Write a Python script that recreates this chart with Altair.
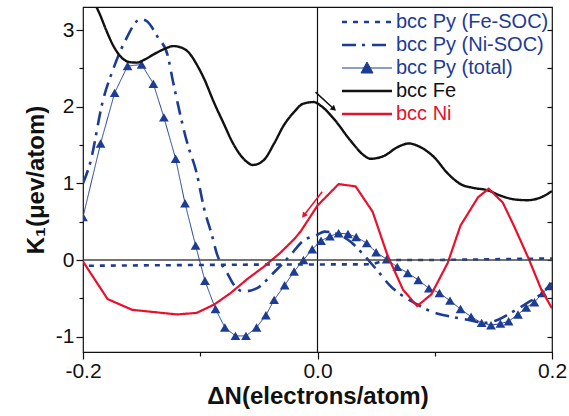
import altair as alt
import pandas as pd

# ---------------- data ----------------
names = ["bcc Py (Fe-SOC)", "bcc Py (Ni-SOC)", "bcc Py (total)", "bcc Fe", "bcc Ni"]
colors = ["#1d3c94", "#1d3c94", "#1d3c94", "#111111", "#e8102c"]

fe_x = [-0.2, -0.19, -0.1855, -0.18, -0.174, -0.167, -0.16, -0.154, -0.148, -0.14, -0.131,
        -0.123, -0.116, -0.11, -0.103, -0.096, -0.089, -0.08, -0.072, -0.063, -0.055, -0.046,
        -0.037, -0.029, -0.02, -0.012, -0.003, 0.003, 0.014, 0.028, 0.04, 0.045, 0.057, 0.068,
        0.078, 0.088, 0.0995, 0.111, 0.122, 0.133, 0.145, 0.156, 0.168, 0.179, 0.191, 0.2]
fe_y = [3.72, 3.35, 3.20, 2.99, 2.79, 2.64, 2.58, 2.575, 2.61, 2.68, 2.75,
        2.79, 2.77, 2.71, 2.55, 2.34, 2.08, 1.78, 1.52, 1.32, 1.24, 1.30,
        1.52, 1.75, 1.93, 2.04, 2.06, 2.01, 1.84, 1.56, 1.36, 1.32, 1.36, 1.47,
        1.52, 1.47, 1.34, 1.13, 0.99, 0.94, 0.91, 0.84, 0.79, 0.78, 0.82, 0.90]

ni_x = [-0.2, -0.179, -0.158, -0.12, -0.103, -0.088, -0.074, -0.06, -0.046, -0.032, -0.02,
        -0.0145, 0.0, 0.018, 0.0325, 0.047, 0.0596, 0.073, 0.085, 0.097, 0.111, 0.122, 0.137,
        0.146, 0.158, 0.168, 0.18, 0.191, 0.2]
ni_y = [-0.02, -0.51, -0.65, -0.71, -0.69, -0.58, -0.43, -0.25, -0.09, 0.09, 0.27,
        0.37, 0.71, 0.99, 0.96, 0.63, 0.065, -0.39, -0.6, -0.45, -0.04, 0.45, 0.82,
        0.93, 0.75, 0.43, 0.02, -0.39, -0.63]

fesoc_x = [-0.195, -0.15, -0.1, -0.05, 0.0, 0.03, 0.047, 0.058, 0.1, 0.15, 0.2]
fesoc_y = [-0.075, -0.07, -0.065, -0.06, -0.058, -0.057, -0.056, 0.0, 0.0, 0.01, 0.02]

nisoc_x = [-0.2, -0.194, -0.183, -0.174, -0.164, -0.151, -0.146, -0.136, -0.128, -0.123,
           -0.111, -0.103, -0.097, -0.09, -0.086, -0.077, -0.0715, -0.063, -0.052, -0.037,
           -0.023, -0.013, 0.0, 0.006, 0.02, 0.028, 0.038, 0.047, 0.054, 0.061, 0.071,
           0.085, 0.097, 0.114, 0.128, 0.142, 0.154, 0.165, 0.179, 0.19, 0.2]
nisoc_y = [1.0, 1.26, 2.08, 2.5, 2.86, 3.14, 3.12, 2.9, 2.68, 2.31,
           1.52, 1.13, 0.69, 0.32, 0.09, -0.17, -0.32, -0.41, -0.37, -0.16,
           0.065, 0.24, 0.33, 0.37, 0.32, 0.24, 0.09, -0.065, -0.19, -0.32, -0.45,
           -0.58, -0.67, -0.74, -0.78, -0.82, -0.78, -0.69, -0.56, -0.45, -0.30]

tot_x = [-0.2, -0.185, -0.173, -0.162, -0.15, -0.14, -0.131, -0.121, -0.113, -0.104, -0.096,
         -0.087, -0.079, -0.07, -0.061, -0.052, -0.044, -0.037, -0.028, -0.02, -0.012, -0.0045,
         0.003, 0.0106, 0.018, 0.026, 0.033, 0.042, 0.05, 0.059, 0.068, 0.077, 0.086, 0.095,
         0.104, 0.113, 0.122, 0.131, 0.14, 0.148, 0.156, 0.163, 0.171, 0.178, 0.185, 0.192, 0.198]
tot_y = [0.56, 1.52, 2.18, 2.53, 2.55, 2.3, 1.86, 1.32, 0.74, 0.19, -0.27,
         -0.64, -0.88, -0.99, -0.99, -0.88, -0.72, -0.52, -0.33, -0.15, 0.0, 0.14,
         0.25, 0.31, 0.35, 0.34, 0.30, 0.22, 0.10, 0.01, -0.09, -0.17, -0.26, -0.37,
         -0.43, -0.53, -0.64, -0.74, -0.82, -0.85, -0.83, -0.80, -0.71, -0.62, -0.55, -0.43, -0.34]

# small arrows drawn near x = 0 (start -> end, data units)
arrow_series = ["bcc Fe", "bcc Ni"]
arrow_x0 = [-0.0017, 0.004]
arrow_y0 = [2.19, 0.89]
arrow_x1 = [0.014, -0.0117]
arrow_y1 = [1.97, 0.58]

# ---------------- styles ----------------
NAVY = "#1d3c94"
arrow_angle = [132, 218]
FONT = "Liberation Sans"


def frame(name, xs, ys):
    return pd.DataFrame({"series": name, "x": xs, "y": ys})


df = pd.concat([
    frame(names[0], fesoc_x, fesoc_y),
    frame(names[1], nisoc_x, nisoc_y),
    frame(names[2], tot_x, tot_y),
    frame(names[3], fe_x, fe_y),
    frame(names[4], ni_x, ni_y),
], ignore_index=True)

arrows = pd.DataFrame({"series": arrow_series, "x": arrow_x0, "y": arrow_y0,
                       "x2": arrow_x1, "y2": arrow_y1, "angle": arrow_angle})
zero = pd.DataFrame({"v": [0.0]})

xscale = alt.Scale(domain=[-0.2, 0.2], nice=False, zero=False)
yscale = alt.Scale(domain=[-1.2, 3.3], nice=False, zero=False)

major_x = "abs(datum.value) > 0.15 || datum.value == 0"
x_axis = alt.Axis(
    values=[-0.2, -0.1, 0.0, 0.1, 0.2],
    labelExpr=f"{major_x} ? replace(format(datum.value, '.1f'), '\u2212', '-') : ''",
    tickSize={"condition": {"test": major_x, "value": 7}, "value": 4},
    labelPadding=1, labelFlush=False, grid=False, domain=False,
    title="\u0394N(electrons/atom)", titlePadding=3,
)
y_axis = alt.Axis(
    values=[-1, -0.5, 0, 0.5, 1, 1.5, 2, 2.5, 3],
    labelExpr="datum.value % 1 == 0 ? replace(format(datum.value, 'd'), '\u2212', '-') : ''",
    tickSize={"condition": {"test": "datum.value % 1 != 0", "value": 4}, "value": 7},
    labelPadding=2, labelFlush=False, grid=False, domain=False,
    title="K\u2081(\u03bcev/atom)", titlePadding=7,
)

X = alt.X("x:Q", scale=xscale, axis=x_axis)
Y = alt.Y("y:Q", scale=yscale, axis=y_axis)

legend = alt.Legend(
    title=None, orient="none", legendX=259, legendY=5, padding=0,
    symbolType={"expr": "datum.label == 'bcc Py (total)' ? 'M-2.5,0H2.5M0,-0.6L0.6,0.5L-0.6,0.5Z' : 'M-2.5,0H2.5'"},
    symbolSize=400, symbolOffset=15, labelOffset=19,
    symbolStrokeWidth={"expr": "datum.label == 'bcc Py (total)' ? 1 : 2.5"},
    symbolDash={"expr": "datum.label == 'bcc Py (Fe-SOC)' ? [5, 6] : datum.label == 'bcc Py (Ni-SOC)' ? [14, 6, 3, 7] : []"},
    symbolFillColor=NAVY,
    labelColor={"expr": "indexof(datum.label, 'Py') >= 0 ? '#1d3c94' : datum.label == 'bcc Fe' ? '#111111' : '#e8102c'"},
    labelFont=FONT, labelFontSize=20, labelLimit=0, rowPadding=3,
)
color = alt.Color("series:N", scale=alt.Scale(domain=names, range=colors), legend=legend)
color_nolegend = alt.Color("series:N", scale=alt.Scale(domain=names, range=colors), legend=None)

base = alt.Chart(df).encode(x=X, y=Y)


def series_line(i, dash, width, interp):
    return base.transform_filter(alt.datum.series == names[i]).mark_line(
        clip=True, interpolate=interp
    ).encode(color=color, strokeDash=alt.value(dash), strokeWidth=alt.value(width))


vzero = alt.Chart(zero).mark_rule(color="#111111", strokeWidth=1.2).encode(x=alt.X("v:Q", scale=xscale))

l_fesoc = series_line(0, [5, 6], 2.6, "linear")
l_nisoc = series_line(1, [14, 6, 3, 7], 2.6, "monotone")
l_tot = series_line(2, [1, 0], 1.0, "linear")
p_tot = base.transform_filter(alt.datum.series == names[2]).mark_point(
    shape="triangle-up", filled=True, size=95, opacity=1, clip=True
).encode(color=alt.value(NAVY))
l_fe = series_line(3, [1, 0], 2.4, "monotone")
l_ni = series_line(4, [1, 0], 2.2, "linear")

arrow_shaft = alt.Chart(arrows).mark_rule(strokeWidth=1.5).encode(
    x=alt.X("x:Q", scale=xscale), y=alt.Y("y:Q", scale=yscale),
    x2="x2:Q", y2="y2:Q", color=color_nolegend)
arrow_head = alt.Chart(arrows).mark_point(shape="triangle-up", filled=True, size=40, opacity=1).encode(
    x=alt.X("x2:Q", scale=xscale), y=alt.Y("y2:Q", scale=yscale),
    angle=alt.Angle("angle:Q", scale=None), color=color_nolegend)

main = alt.layer(vzero, l_fesoc, l_nisoc, l_tot, p_tot, l_fe, l_ni, arrow_shaft, arrow_head)

right = alt.Chart(zero).mark_rule(color="#444444", strokeWidth=1.5).encode(
    y=alt.Y("v:Q", scale=yscale, axis=alt.Axis(
        orient="right", values=[-1, -0.5, 0, 0.5, 1, 1.5, 2, 2.5, 3], labels=False,
        tickSize=5, offset=-5, domain=False, grid=False, title=None))
)

chart = alt.layer(main, right).resolve_scale(y="independent").properties(
    width=469, height=345,
    autosize=alt.AutoSizeParams(type="none"),
    padding={"left": 83, "top": 7, "right": 17, "bottom": 64},
    background="white",
).configure_view(stroke="#111111", strokeWidth=1.2).configure_axis(
    labelFont=FONT, labelFontSize=21, labelColor="#111111",
    titleFont=FONT, titleFontSize=24, titleFontWeight="bold", titleColor="#111111",
    tickColor="#111111", tickWidth=1.2,
)

chart.save("out.html", embed_options={"renderer": "svg", "actions": False})
